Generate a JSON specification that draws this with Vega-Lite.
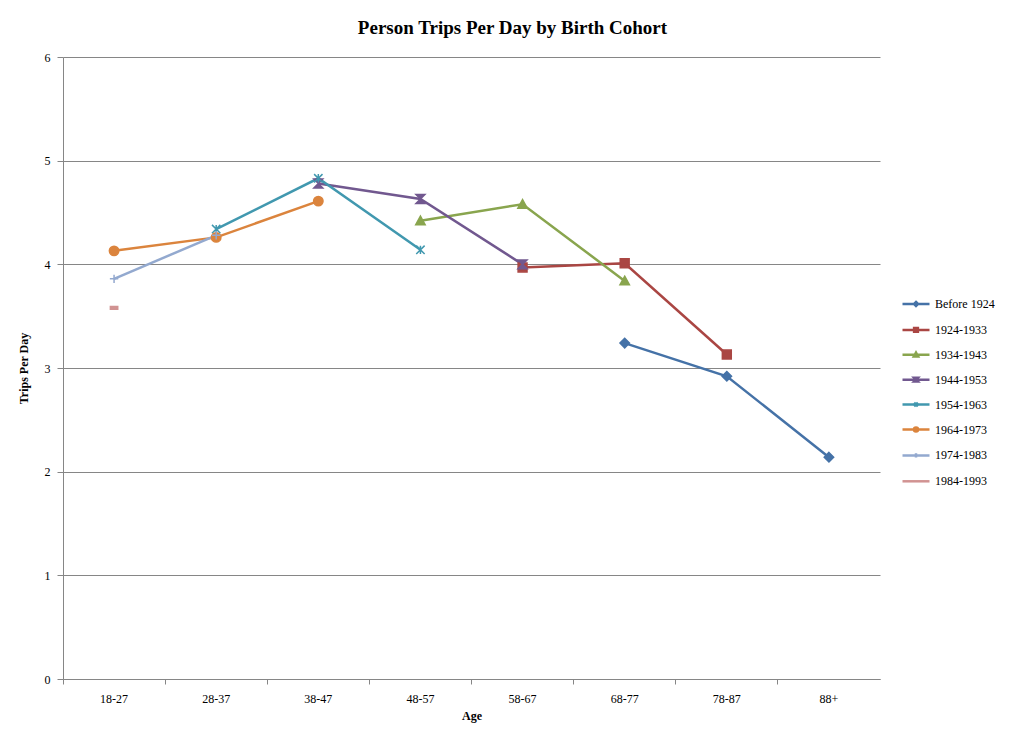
{
  "$schema": "https://vega.github.io/schema/vega-lite/v6.json",
  "width": 817,
  "height": 622,
  "autosize": {"type": "none"},
  "padding": {"left": 63, "top": 57, "right": 144, "bottom": 65},
  "background": "white",
  "config": {
    "view": {"stroke": null},
    "font": "Liberation Serif"
  },
  "title": {"text": "Person Trips Per Day by Birth Cohort", "font": "Liberation Serif", "fontSize": 19, "fontWeight": "bold", "color": "black", "anchor": "middle", "frame": "group", "dx": 41, "offset": 13},
  "data": {"values": [
    {"age": "68-77", "cohort": "Before 1924", "trips": 3.24},
    {"age": "78-87", "cohort": "Before 1924", "trips": 2.92},
    {"age": "88+", "cohort": "Before 1924", "trips": 2.14},
    {"age": "58-67", "cohort": "1924-1933", "trips": 3.97},
    {"age": "68-77", "cohort": "1924-1933", "trips": 4.01},
    {"age": "78-87", "cohort": "1924-1933", "trips": 3.13},
    {"age": "48-57", "cohort": "1934-1943", "trips": 4.42},
    {"age": "58-67", "cohort": "1934-1943", "trips": 4.58},
    {"age": "68-77", "cohort": "1934-1943", "trips": 3.84},
    {"age": "38-47", "cohort": "1944-1953", "trips": 4.78},
    {"age": "48-57", "cohort": "1944-1953", "trips": 4.63},
    {"age": "58-67", "cohort": "1944-1953", "trips": 4.0},
    {"age": "28-37", "cohort": "1954-1963", "trips": 4.34},
    {"age": "38-47", "cohort": "1954-1963", "trips": 4.83},
    {"age": "48-57", "cohort": "1954-1963", "trips": 4.14},
    {"age": "18-27", "cohort": "1964-1973", "trips": 4.13},
    {"age": "28-37", "cohort": "1964-1973", "trips": 4.26},
    {"age": "38-47", "cohort": "1964-1973", "trips": 4.61},
    {"age": "18-27", "cohort": "1974-1983", "trips": 3.86},
    {"age": "28-37", "cohort": "1974-1983", "trips": 4.28},
    {"age": "18-27", "cohort": "1984-1993", "trips": 3.58}
  ]},
  "encoding": {
    "x": {"field": "age", "type": "nominal",
      "scale": {"type": "band", "domain": ["18-27","28-37","38-47","48-57","58-67","68-77","78-87","88+"], "paddingInner": 0, "paddingOuter": 0},
      "axis": {"title": "Age", "labelAngle": 0, "bandPosition": 0, "grid": false, "domainColor": "#868686", "tickColor": "#868686", "tickSize": 5, "labelPadding": 9, "titlePadding": 6, "labelFont": "Liberation Serif", "labelFontSize": 12, "labelColor": "black", "titleFont": "Liberation Serif", "titleFontSize": 12, "titleFontWeight": "bold", "titleColor": "black"}},
    "y": {"field": "trips", "type": "quantitative",
      "scale": {"domain": [0, 6], "nice": false},
      "axis": {"title": "Trips Per Day", "values": [0,1,2,3,4,5,6], "labelOverlap": false, "gridColor": "#868686", "domainColor": "#868686", "tickColor": "#868686", "tickSize": 6, "labelPadding": 7, "titlePadding": 14, "labelFont": "Liberation Serif", "labelFontSize": 12, "labelColor": "black", "titleFont": "Liberation Serif", "titleFontSize": 12, "titleFontWeight": "bold", "titleColor": "black"}}
  },
  "layer": [
    {
      "mark": {"type": "line", "strokeWidth": 2.5},
      "encoding": {
        "color": {"field": "cohort", "type": "nominal",
          "scale": {"domain": ["Before 1924","1924-1933","1934-1943","1944-1953","1954-1963","1964-1973","1974-1983","1984-1993"],
                    "range": ["#4572A7","#AA4643","#89A54E","#71588F","#4198AF","#DB843D","#93A9CF","#D19392"]},
          "legend": {"title": null, "orient": "none", "legendX": 838, "legendY": 232, "padding": 0, "rowPadding": 2.9, "symbolSize": 676, "symbolStrokeWidth": 2.5, "labelFont": "Liberation Serif", "labelFontSize": 12, "labelColor": "black", "labelOffset": 4,
            "encode": {"symbols": {"update": {
              "fill": {"scale": "color", "field": "value"},
              "stroke": {"scale": "color", "field": "value"},
              "strokeWidth": {"value": 2.5},
              "opacity": {"value": 1},
              "size": {"value": 729},
              "shape": {"signal": "datum.value === 'Before 1924' ? 'M-1,0L1,0M0,-0.15L0.15,0L0,0.15L-0.15,0Z' : datum.value === '1924-1933' ? 'M-1,0L1,0M-0.14,-0.14L0.14,-0.14L0.14,0.14L-0.14,0.14Z' : datum.value === '1934-1943' ? 'M-1,0L1,0M0,-0.16L0.16,0.12L-0.16,0.12Z' : datum.value === '1944-1953' ? 'M-1,0L1,0M-0.14,-0.14L0.14,-0.14L-0.14,0.14L0.14,0.14Z' : datum.value === '1954-1963' ? 'M-1,0L1,0M-0.14,-0.14L0.14,0.14M-0.14,0.14L0.14,-0.14M0,-0.14L0,0.14' : datum.value === '1964-1973' ? 'M-1,0L1,0M-0.15,0A0.15,0.15,0,1,1,0.15,0A0.15,0.15,0,1,1,-0.15,0Z' : datum.value === '1974-1983' ? 'M-1,0L1,0M0,-0.16L0,0.16' : 'M-1,0L1,0'"}
            }}}}}
      }
    },
    {
      "mark": {"type": "point", "filled": true, "size": 110, "strokeWidth": 1.5, "opacity": 1},
      "encoding": {
        "fill": {"field": "cohort", "type": "nominal",
          "scale": {"domain": ["Before 1924","1924-1933","1934-1943","1944-1953","1954-1963","1964-1973","1974-1983","1984-1993"],
                    "range": ["#4572A7","#AA4643","#89A54E","#71588F","#4198AF","#DB843D","#93A9CF","#D19392"]},
          "legend": null},
        "stroke": {"field": "cohort", "type": "nominal",
          "scale": {"domain": ["Before 1924","1924-1933","1934-1943","1944-1953","1954-1963","1964-1973","1974-1983","1984-1993"],
                    "range": ["#4572A7","#AA4643","#89A54E","#71588F","#4198AF","#DB843D","#93A9CF","#D19392"]},
          "legend": null},
        "shape": {"field": "cohort", "type": "nominal",
          "scale": {"domain": ["Before 1924","1924-1933","1934-1943","1944-1953","1954-1963","1964-1973","1974-1983","1984-1993"],
                    "range": ["M0,-0.9L0.9,0L0,0.9L-0.9,0Z", "M-0.85,-0.85L0.85,-0.85L0.85,0.85L-0.85,0.85Z", "M0,-0.9L0.9,0.75L-0.9,0.75Z", "M-0.85,-0.85L0.85,-0.85L-0.85,0.85L0.85,0.85Z", "M-0.8,-0.8L0.8,0.8M-0.8,0.8L0.8,-0.8M0,-0.8L0,0.8", "M-0.9,0A0.9,0.9,0,1,1,0.9,0A0.9,0.9,0,1,1,-0.9,0Z", "M-0.8,0L0.8,0M0,-0.8L0,0.8", "M-0.7,-0.25L0.7,-0.25L0.7,0.25L-0.7,0.25Z"]},
          "legend": null}
      }
    }
  ],
  "resolve": {"legend": {"shape": "independent", "fill": "independent", "stroke": "independent"}}
}
